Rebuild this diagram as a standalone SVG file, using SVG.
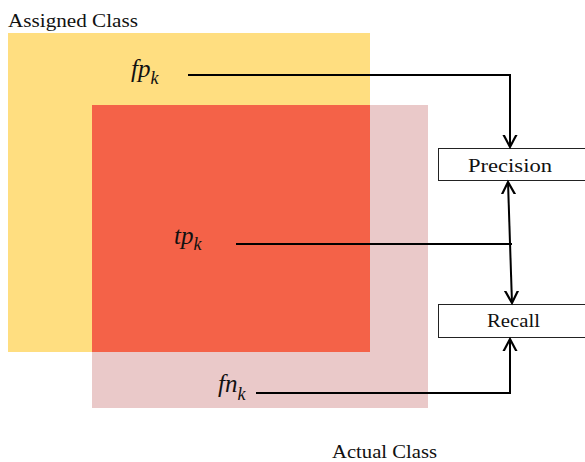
<svg xmlns="http://www.w3.org/2000/svg" width="585" height="462" viewBox="0 0 585 462">
<style>
.t{font-family:"Liberation Serif","Times New Roman",serif;fill:#111}
.lbl{font-size:19px}
.m{font-size:25px;font-style:italic}
.sub{font-size:18px}
.ln{fill:none;stroke:#000;stroke-width:2}
.box{fill:#fff;stroke:#222;stroke-width:1}
</style>
<defs>
<marker id="ah" viewBox="-12 -12 24 24" markerWidth="24" markerHeight="24" refX="0" refY="0" orient="auto" markerUnits="userSpaceOnUse">
<path d="M-19,-10 L0,0 L-19,10" fill="none" stroke="#000" stroke-width="2.2"/>
</marker>
</defs>
<g id="assigned">
<rect x="8" y="33" width="362" height="319" fill="#FFDE80"/>
<text class="t lbl" x="8" y="27" textLength="130" lengthAdjust="spacingAndGlyphs">Assigned Class</text>
</g>
<g id="actual">
<rect x="92" y="105" width="336" height="303" fill="#EAC9C9"/>
<text class="t lbl" x="332" y="458" textLength="105" lengthAdjust="spacingAndGlyphs">Actual Class</text>
</g>
<g id="overlap">
<rect x="92" y="105" width="278" height="247" fill="#F46248"/>
</g>
<g id="fp"><text class="t m" x="131" y="77">fp<tspan class="sub" dy="7">k</tspan></text></g>
<g id="tp"><text class="t m" x="174" y="244">tp<tspan class="sub" dy="6">k</tspan></text></g>
<g id="fn"><text class="t m" x="218" y="392">fn<tspan class="sub" dy="8">k</tspan></text></g>
<g id="precision">
<rect class="box" x="438.5" y="148.5" width="150" height="32"/>
<text class="t lbl" x="468" y="172" textLength="84" lengthAdjust="spacingAndGlyphs">Precision</text>
</g>
<g id="recall">
<rect class="box" x="438.5" y="304.5" width="150" height="33"/>
<text class="t lbl" x="487" y="327" textLength="53" lengthAdjust="spacingAndGlyphs">Recall</text>
</g>
<g id="connectors">
<polyline class="ln" points="188,75 510,75 510,147" marker-end="url(#ah)"/>
<line class="ln" x1="236" y1="244" x2="512" y2="244"/>
<line class="ln" x1="510" y1="243" x2="508" y2="182" marker-end="url(#ah)"/>
<line class="ln" x1="510" y1="243" x2="512" y2="303" marker-end="url(#ah)"/>
<polyline class="ln" points="256,393 510,393 510,339" marker-end="url(#ah)"/>
</g>
</svg>
